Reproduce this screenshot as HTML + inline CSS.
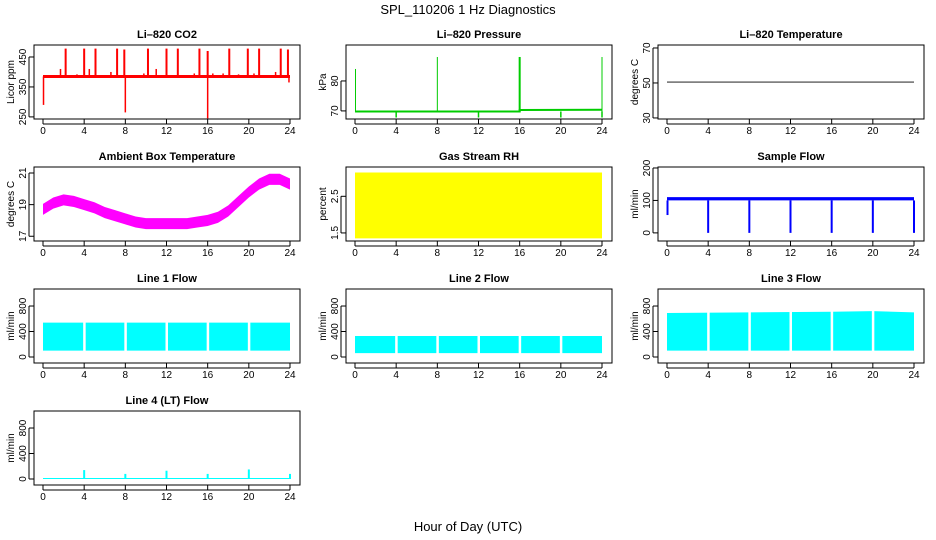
<!DOCTYPE html>
<html><head><meta charset="utf-8"><style>
body{margin:0;background:#fff}
svg{display:block;font-family:"Liberation Sans",sans-serif}
</style></head><body>
<svg id="c" width="936" height="540" xmlns="http://www.w3.org/2000/svg">
<text x="468" y="14" text-anchor="middle" font-size="13">SPL_110206  1 Hz Diagnostics</text>
<text x="468" y="531" text-anchor="middle" font-size="13">Hour of Day (UTC)</text>
</svg>
<script>
// ---- data ----
const xTicks=[0,4,8,12,16,20,24];
const co2Base=385;
const co2SpikeT=[2.2,4.0,5.1,7.2,7.9,10.2,12.0,13.1,15.2,16.0,18.1,19.9,21.0,23.1,23.8];
const co2SpikeV=[478,478,478,478,475,478,478,478,478,470,478,478,478,478,475];
const co2DipT=[0.05,8.0,16.0,23.9];
const co2DipV=[290,265,245,365];
const co2SmallT=[1.7,3.3,4.5,6.6,9.8,11.0,14.7,16.5,17.5,19.0,20.5,22.6];
const co2SmallV=[410,392,410,400,395,410,395,395,395,392,395,400];
const presT=[0,16,16,24];
const presV=[69.8,69.8,70.3,70.4];
const presSpikeT=[0.05,8.0,16.0,24.0];
const presSpikeV=[84,88,88,88];
const presDipT=[4,12,20,24];
const presDipV=[67.8,67.8,67.8,67.8];
const li820Temp=50.5;
const ambT=[0,1,2,3,4,5,6,7,8,9,10,11,12,13,14,15,16,17,18,19,20,21,22,23,24];
const ambV=[18.7,19.1,19.3,19.2,19.0,18.8,18.5,18.3,18.1,17.9,17.8,17.8,17.8,17.8,17.8,17.9,18.0,18.2,18.6,19.2,19.8,20.3,20.6,20.6,20.3];
const rhLow=1.35, rhHigh=3.15;
const sfBase=[100,110];
const sfDipT=[0.05,4,8,12,16,20,24];
const sfDipV=[55,0,0,0,0,0,0];
const flowGaps=[4,8,12,16,20];
const l1Band=[100,540];
const l2Band=[60,330];
const l3Low=100;
const l3HighT=[0,8,16,20,24];
const l3HighV=[690,700,710,720,700];
const l4Base=[0,15];
const l4SpikeT=[4,8,12,16,20,24];
const l4SpikeV=[140,80,130,80,150,80];

const svg=document.getElementById('c');
const NS='http://www.w3.org/2000/svg';
function el(tag,attrs,parent){const e=document.createElementNS(NS,tag);for(const k in attrs)e.setAttribute(k,attrs[k]);(parent||svg).appendChild(e);return e;}

function panel(col,row,name,title,ylab,yticks,ymin,ymax){
  const g=el('g',{});
  
  
  const x0=43+col*312, x1=x0+247, L=x0-9, R=x1+10, T=45+row*122, B=T+74;
  const sx=h=>x0+h*(x1-x0)/24;
  const sy=v=>B-(v-ymin)/(ymax-ymin)*(B-T);
  const t=el('text',{x:(L+R)/2,y:T-7,'text-anchor':'middle','font-size':11,'font-weight':'bold'},g);t.textContent=title;
  
  const yl=el('text',{x:0,y:0,'text-anchor':'middle','font-size':10,transform:`translate(${L-20},${(T+B)/2}) rotate(-90)`},g);yl.textContent=ylab;
  
  xTicks.forEach(v=>{el('line',{x1:sx(v),x2:sx(v),y1:B,y2:B+5,stroke:'#000'},g);
    const tt=el('text',{x:sx(v),y:B+15,'text-anchor':'middle','font-size':10},g);tt.textContent=v;
    });
  el('line',{x1:sx(0),x2:sx(24),y1:B+5,y2:B+5,stroke:'#000'},g);
  yticks.forEach(v=>{const y=sy(v);el('line',{x1:L,x2:L-5,y1:y,y2:y,stroke:'#000'},g);
    const tt=el('text',{x:0,y:0,'text-anchor':'middle','font-size':10,transform:`translate(${L-8},${y}) rotate(-90)`},g);tt.textContent=v;
    });
  el('line',{x1:L-5,x2:L-5,y1:sy(yticks[0]),y2:sy(yticks[yticks.length-1]),stroke:'#000'},g);
  const data=el('g',{},g);
  el('rect',{x:L,y:T,width:R-L,height:B-T,fill:'none',stroke:'#000'},g);
  return {sx,sy,g:data};
}
function vline(p,t,v0,v1,c,w){const l=el('line',{x1:p.sx(t),x2:p.sx(t),y1:p.sy(v0),y2:p.sy(v1),stroke:c,'stroke-width':w||2},p.g);
  }
function poly(p,ts,vs,c,w){const l=el('polyline',{points:ts.map((t,i)=>p.sx(t)+','+p.sy(vs[i])).join(' '),fill:'none',stroke:c,'stroke-width':w||1},p.g);
  return l;}
function band(p,ts,lo,hi,c,name){const pts=ts.map((t,i)=>p.sx(t)+','+p.sy(hi[i])).concat(ts.slice().reverse().map((t,i)=>p.sx(t)+','+p.sy(lo[ts.length-1-i])));
  const b=el('polygon',{points:pts.join(' '),fill:c},p.g);}

// CO2
let p=panel(0,0,'co2','Li\u2013820 CO2','Licor ppm',[250,350,450],243,490);
poly(p,[0,24],[co2Base,co2Base],'red',3);
co2SpikeT.forEach((t,i)=>vline(p,t,co2Base,co2SpikeV[i],'red',2));
co2DipT.forEach((t,i)=>vline(p,t,co2Base,co2DipV[i],'red',1.5));
co2SmallT.forEach((t,i)=>vline(p,t,co2Base,co2SmallV[i],'red',1.5));
// Pressure
p=panel(1,0,'pressure','Li\u2013820 Pressure','kPa',[70,80],67.3,92);
poly(p,presT,presV,'#00cc00',2);
presSpikeT.forEach((t,i)=>vline(p,t,presV[0],presSpikeV[i],'#00cc00',i==2?2:1));
presDipT.forEach((t,i)=>vline(p,t,presV[0],presDipV[i],'#00cc00',1.5));
// Temperature
p=panel(2,0,'li820-temp','Li\u2013820 Temperature','degrees C',[30,50,70],29.4,71.7);
poly(p,[0,24],[li820Temp,li820Temp],'#000',0.8);
// Ambient
p=panel(0,1,'ambient-temp','Ambient Box Temperature','degrees C',[17,19,21],16.7,21.38);
band(p,ambT,ambV.map(v=>v-0.35),ambV.map(v=>v+0.35),'magenta','ambient-band');
// RH
p=panel(1,1,'rh','Gas Stream RH','percent',[1.5,2.5],1.28,3.3);
band(p,[0,24],[rhLow,rhLow],[rhHigh,rhHigh],'yellow','rh-band');
// Sample flow
p=panel(2,1,'sample-flow','Sample Flow','ml/min',[0,100,200],-25,203);
band(p,[0,24],[sfBase[0],sfBase[0]],[sfBase[1],sfBase[1]],'blue','sample-flow-band');
sfDipT.forEach((t,i)=>vline(p,t,sfBase[0],sfDipV[i],'blue',2));
// Line flows
function flowPanel(col,row,name,title,lo,hiT,hiV){
  const q=panel(col,row,name,title,'ml/min',[0,400,800],-94,1067);
  band(q,hiT,hiT.map(()=>lo),hiV,'cyan',name+'-band');
  flowGaps.forEach(t=>{const r=el('rect',{x:q.sx(t)-1,y:q.sy(1000),width:2.5,height:q.sy(-50)-q.sy(1000),fill:'#fff'},q.g);
    });
  return q;
}
flowPanel(0,2,'line1-flow','Line 1 Flow',l1Band[0],[0,24],[l1Band[1],l1Band[1]]);
flowPanel(1,2,'line2-flow','Line 2 Flow',l2Band[0],[0,24],[l2Band[1],l2Band[1]]);
flowPanel(2,2,'line3-flow','Line 3 Flow',l3Low,l3HighT,l3HighV);
p=panel(0,3,'line4-flow','Line 4 (LT) Flow','ml/min',[0,400,800],-94,1067);
band(p,[0,24],[l4Base[0],l4Base[0]],[l4Base[1],l4Base[1]],'cyan','line4-band');
l4SpikeT.forEach((t,i)=>vline(p,t,l4Base[0],l4SpikeV[i],'cyan',2));
</script>
</body></html>
